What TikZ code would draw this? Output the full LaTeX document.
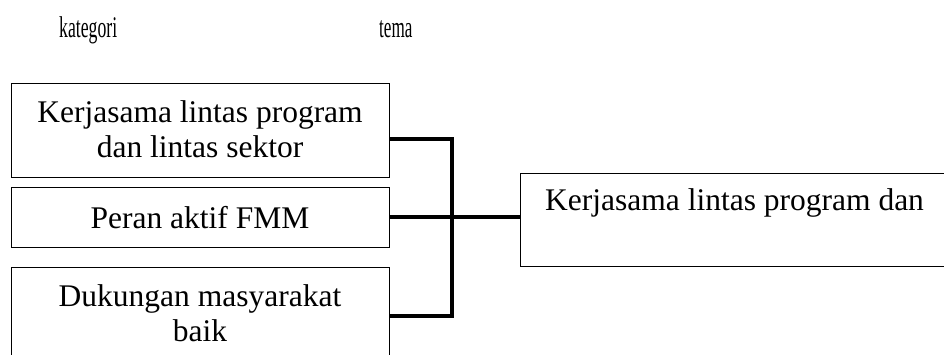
\documentclass[tikz,border=0pt]{standalone}
\usepackage{fontspec}
\setmainfont{Liberation Serif}
\newcommand{\bodyfont}{\fontsize{31.5}{35}\selectfont}
\newcommand{\headfont}{\fontsize{30}{34}\selectfont}
\begin{document}
\begin{tikzpicture}[x=1pt,y=-1pt,
  box/.style={draw, line width=1pt, inner sep=0pt, outer sep=0pt, anchor=north west},
  lbl/.style={anchor=base, inner sep=0pt, font=\bodyfont},
  head/.style={anchor=base west, inner sep=0pt, font=\headfont},
  conn/.style={line width=4pt}]
\clip (0,0) rectangle (944,354);

% column headings
\node[head] (hk) at (59,37) {\scalebox{0.59}[1]{kategori}};
\node[head] (ht) at (379,37) {\scalebox{0.57}[1]{tema}};

% category boxes
\node[box, minimum width=378pt, minimum height=94pt] (b1) at (11,83) {};
\node[box, minimum width=378pt, minimum height=60pt] (b2) at (11,187) {};
\node[box, minimum width=378pt, minimum height=120pt] (b3) at (11,267) {};

\node[lbl] (b1a) at (200,122) {Kerjasama lintas program};
\node[lbl] (b1b) at (200,157) {dan lintas sektor};
\node[lbl] (b2a) at (200,228) {Peran aktif FMM};
\node[lbl] (b3a) at (200,306) {Dukungan masyarakat};
\node[lbl] (b3b) at (200,341) {baik};

% theme box
\node[box, minimum width=440pt, minimum height=93pt] (tm) at (520,173) {};
\node[lbl, anchor=base west] (tma) at (545,210) {Kerjasama lintas program dan};

% bracket joining the categories to the theme
\coordinate (y1) at (0,139);
\coordinate (y3) at (0,316);
\coordinate (jn) at (452,217);
\draw[conn] (b1.east |- y1) -| (jn |- y1) -- (jn |- y3) -- (b3.east |- y3);
\draw[conn] (b2.east) -- (tm.west |- b2.east);
\end{tikzpicture}
\end{document}
